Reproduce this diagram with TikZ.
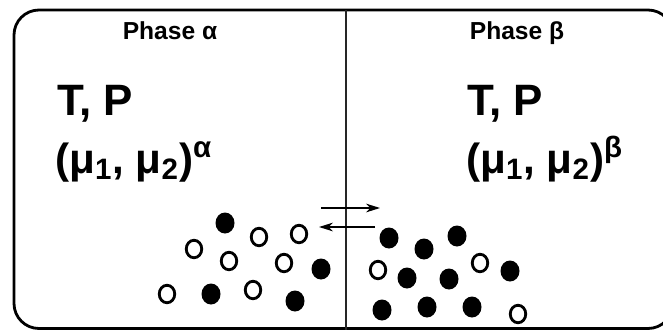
\documentclass[tikz,border=0pt]{standalone}
\usepackage{fontspec}
\setmainfont{Liberation Sans}
\usetikzlibrary{arrows.meta,shapes.geometric}
\begin{document}
\begin{tikzpicture}[>={Stealth[length=8pt,width=5pt,inset=2.5pt]},
    phasetitle/.style={inner sep=0pt,anchor=base,font=\fontsize{14}{16}\selectfont\bfseries},
    bigtext/.style={inner sep=0pt,anchor=base west,font=\fontsize{25}{28}\selectfont\bfseries},
    mutext/.style={inner sep=0pt,anchor=base west,font=\fontsize{24}{28}\selectfont\bfseries},
    fullmol/.style={ellipse,fill=black,minimum width=0.38cm,minimum height=0.42cm,inner sep=0pt},
    openmol/.style={ellipse,draw=black,line width=1.6pt,minimum width=0.31cm,minimum height=0.35cm,inner sep=0pt}]
            \clip (0,0) rectangle (13.26,-6.58);
            % container
            \draw[line width=1.6pt,rounded corners=0.5cm] (0.28,-0.2) rectangle (13.46,-6.57);
            \draw[line width=0.7pt,black!85] (6.92,-0.2) -- (6.92,-6.6);
            % labels
            \node[phasetitle] (phaseA) at (3.40,-0.78) {Phase α};
            \node[phasetitle] (phaseB) at (10.34,-0.78) {Phase β};
            \node[bigtext] (tpA) at (1.14,-2.30) {T, P};
            \node[bigtext] (tpB) at (9.34,-2.30) {T, P};
            \node[mutext] (muA) at (1.10,-3.46) {(μ\textsubscript{1}, μ\textsubscript{2})\textsuperscript{α}};
            \node[mutext] (muB) at (9.32,-3.46) {(μ\textsubscript{1}, μ\textsubscript{2})\textsuperscript{β}};
            % exchange arrows
            \coordinate (fwdS) at (6.42,-4.16);
            \coordinate (fwdE) at (7.60,-4.16);
            \coordinate (bwdS) at (7.50,-4.54);
            \coordinate (bwdE) at (6.38,-4.54);
            \draw[->,line width=0.7pt] (fwdS) -- (fwdE);
            \draw[->,line width=0.7pt] (bwdS) -- (bwdE);
            % molecules in phase alpha
            \node[fullmol] (a1) at (4.50,-4.46) {};
            \node[openmol] (a2) at (5.18,-4.74) {};
            \node[openmol] (a3) at (5.98,-4.68) {};
            \node[openmol] (a4) at (3.88,-4.98) {};
            \node[openmol] (a5) at (4.58,-5.22) {};
            \node[openmol] (a6) at (5.68,-5.26) {};
            \node[fullmol] (a7) at (6.42,-5.38) {};
            \node[openmol] (a8) at (3.34,-5.88) {};
            \node[fullmol] (a9) at (4.22,-5.88) {};
            \node[openmol] (a10) at (5.06,-5.80) {};
            \node[fullmol] (a11) at (5.90,-6.02) {};
            % molecules in phase beta
            \node[fullmol] (b1) at (7.78,-4.76) {};
            \node[fullmol] (b2) at (8.48,-4.98) {};
            \node[fullmol] (b3) at (9.14,-4.72) {};
            \node[openmol] (b4) at (7.56,-5.40) {};
            \node[fullmol] (b5) at (8.14,-5.56) {};
            \node[fullmol] (b6) at (8.98,-5.58) {};
            \node[openmol] (b7) at (9.60,-5.26) {};
            \node[fullmol] (b8) at (10.20,-5.42) {};
            \node[fullmol] (b9) at (7.64,-6.20) {};
            \node[fullmol] (b10) at (8.54,-6.14) {};
            \node[fullmol] (b11) at (9.44,-6.14) {};
            \node[openmol] (b12) at (10.36,-6.28) {};
        \end{tikzpicture}
\end{document}
